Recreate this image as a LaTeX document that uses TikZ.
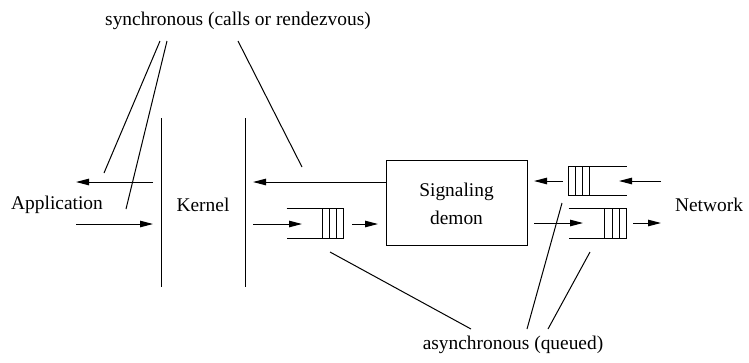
\documentclass[tikz,border=0pt]{standalone}
\usepackage{fontspec}
\setmainfont{Liberation Serif}
\usetikzlibrary{arrows.meta}
\tikzset{
  lbl/.style={inner sep=0pt, font=\fontsize{19.4}{28}\selectfont},
  arr/.style={-{Triangle[length=13pt,width=6.5pt]}},
}
\begin{document}
\begin{tikzpicture}[x=1pt,y=-1pt,line width=1pt]
\useasboundingbox (0,0) rectangle (749,362);
% labels
\node[lbl] (sync) at (238,21) {synchronous (calls or rendezvous)};
\node[lbl] (async) at (513,345) {asynchronous (queued)};
\node[lbl] (app) at (57,205) {Application};
\node[lbl] (kern) at (203,205) {Kernel};
\node[lbl] (net) at (709,205) {Network};
\node[draw,minimum width=141pt,minimum height=85pt] (demon) at (456.5,202.5) {};
\node[lbl,align=center] (demontxt) at (456.5,204) {Signaling\\demon};
% kernel walls
\coordinate (kLt) at (161,118); \coordinate (kLb) at (161,287);
\coordinate (kRt) at (245,118); \coordinate (kRb) at (245,287);
\draw (kLt) -- (kLb);
\draw (kRt) -- (kRb);
% queues
\node[minimum width=56pt,minimum height=29pt,inner sep=0pt] (q1) at (315,223.5) {};
\node[minimum width=57pt,minimum height=28pt,inner sep=0pt] (q2) at (597.5,181) {};
\node[minimum width=57pt,minimum height=29pt,inner sep=0pt] (q3) at (597.5,223.5) {};
\draw (q1.north west) -- (q1.north east) -- (q1.south east) -- (q1.south west);
\foreach \d in {7,14,21} \draw ([xshift=-\d pt]q1.north east) -- ([xshift=-\d pt]q1.south east);
\draw (q2.north east) -- (q2.north west) -- (q2.south west) -- (q2.south east);
\foreach \d in {7,14,21} \draw ([xshift=\d pt]q2.north west) -- ([xshift=\d pt]q2.south west);
\draw (q3.north west) -- (q3.north east) -- (q3.south east) -- (q3.south west);
\foreach \d in {7,14,22} \draw ([xshift=-\d pt]q3.north east) -- ([xshift=-\d pt]q3.south east);
% arrow end points
\coordinate (a1s) at (153,182); \coordinate (a1e) at (76,182);
\coordinate (a2s) at (76,224); \coordinate (a2e) at (153,224);
\coordinate (a3e) at (253,182);
\coordinate (a4s) at (253,224); \coordinate (a4e) at (302,224);
\coordinate (a5s) at (352,224); \coordinate (a5e) at (378,224);
\coordinate (a6s) at (563,181); \coordinate (a6e) at (534,181);
\coordinate (a7s) at (661,181); \coordinate (a7e) at (619,181);
\coordinate (a8s) at (534,223); \coordinate (a8e) at (583,223);
\coordinate (a9s) at (633,223); \coordinate (a9e) at (661,223);
\draw[arr] (a1s) -- (a1e);
\draw[arr] (a2s) -- (a2e);
\draw[arr] (demon.west |- a3e) -- (a3e);
\draw[arr] (a4s) -- (a4e);
\draw[arr] (a5s) -- (a5e);
\draw[arr] (a6s) -- (a6e);
\draw[arr] (a7s) -- (a7e);
\draw[arr] (a8s) -- (a8e);
\draw[arr] (a9s) -- (a9e);
% pointer lines
\coordinate (s1) at (160,41); \coordinate (s1e) at (104,173);
\coordinate (s2) at (167,41); \coordinate (s2e) at (126,209);
\coordinate (s3) at (238,41); \coordinate (s3e) at (302,167);
\draw (s1) -- (s1e);
\draw (s2) -- (s2e);
\draw (s3) -- (s3e);
\coordinate (t1) at (471,329); \coordinate (t1e) at (330,252);
\coordinate (t2) at (527,329); \coordinate (t2e) at (562,203);
\coordinate (t3) at (548,329); \coordinate (t3e) at (590,252);
\draw (t1) -- (t1e);
\draw (t2) -- (t2e);
\draw (t3) -- (t3e);
\end{tikzpicture}
\end{document}
